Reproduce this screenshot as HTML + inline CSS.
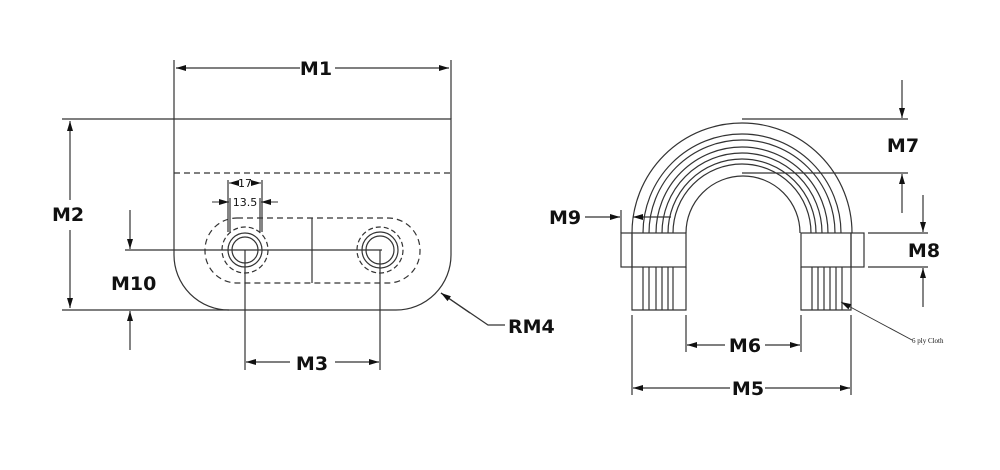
<!DOCTYPE html>
<html><head><style>
html,body{margin:0;padding:0;background:#fff;width:1000px;height:470px;overflow:hidden}
svg text{font-family:"DejaVu Sans","Liberation Sans",sans-serif;font-weight:bold;font-size:19px;fill:#111}
</style></head><body>
<svg width="1000" height="470" viewBox="0 0 1000 470" xmlns="http://www.w3.org/2000/svg">
<defs>
<marker id="a" viewBox="0 0 10 6" refX="10" refY="3" markerWidth="14" markerHeight="6" markerUnits="userSpaceOnUse" orient="auto"><path d="M0,0 L10,3 L0,6z" fill="#111"/></marker>
</defs>
<g stroke="#333" stroke-width="1.2" fill="none">
<!-- LEFT VIEW -->
<path d="M174,119 H451 V255 A55,55 0 0 1 396,310 H229 A55,55 0 0 1 174,255 Z"/>
<line x1="174" y1="173" x2="451" y2="173" stroke-dasharray="6,4"/>
<rect x="205" y="218" width="215" height="65" rx="32" stroke-dasharray="6,4"/>
<line x1="312" y1="218" x2="312" y2="283"/>
<circle cx="245" cy="250" r="23" stroke-dasharray="5,3"/>
<circle cx="245" cy="250" r="17"/>
<circle cx="245" cy="250" r="13"/>
<circle cx="380" cy="250" r="23" stroke-dasharray="5,3"/>
<circle cx="380" cy="250" r="18"/>
<circle cx="380" cy="250" r="14"/>
<line x1="125" y1="250" x2="382" y2="250"/>
<line x1="245" y1="250" x2="245" y2="370"/>
<line x1="380" y1="250" x2="380" y2="370"/>
<line x1="228" y1="180" x2="228" y2="232"/>
<line x1="262" y1="180" x2="262" y2="232"/>
<line x1="230" y1="198" x2="230" y2="232"/>
<line x1="260" y1="198" x2="260" y2="232"/>
<!-- M1 -->
<line x1="174" y1="60" x2="174" y2="119"/>
<line x1="451" y1="60" x2="451" y2="119"/>
<line x1="300" y1="68" x2="176" y2="68" marker-end="url(#a)"/>
<line x1="335" y1="68" x2="449" y2="68" marker-end="url(#a)"/>
<!-- M2 -->
<line x1="62" y1="119" x2="174" y2="119"/>
<line x1="62" y1="310" x2="229" y2="310"/>
<line x1="70" y1="200" x2="70" y2="121" marker-end="url(#a)"/>
<line x1="70" y1="230" x2="70" y2="308" marker-end="url(#a)"/>
<!-- M10 -->
<line x1="130" y1="210" x2="130" y2="249" marker-end="url(#a)"/>
<line x1="130" y1="350" x2="130" y2="311" marker-end="url(#a)"/>
<!-- M3 -->
<line x1="290" y1="362" x2="246" y2="362" marker-end="url(#a)"/>
<line x1="335" y1="362" x2="379" y2="362" marker-end="url(#a)"/>
<!-- RM4 -->
<polyline points="505,325 488,325 441,293" />
<line x1="470" y1="313" x2="441" y2="293" marker-end="url(#a)"/>
<!-- small dims -->
<line x1="238" y1="183" x2="229" y2="183" marker-end="url(#a)" stroke-width="1"/>
<line x1="252" y1="183" x2="261" y2="183" marker-end="url(#a)" stroke-width="1"/>
<line x1="212" y1="202" x2="229" y2="202" marker-end="url(#a)" stroke-width="1"/>
<line x1="278" y1="202" x2="261" y2="202" marker-end="url(#a)" stroke-width="1"/>

<!-- RIGHT VIEW -->
<path d="M632,233 A110,110 0 0 1 852,233" />
<path d="M686,233 A56,56 0 0 1 800,233"/>
<path d="M643,233 A99,99 0 0 1 841,233"/>
<path d="M649,233 A93,93 0 0 1 835,233"/>
<path d="M656,233 A86,86 0 0 1 828,233"/>
<path d="M662,233 A80,80 0 0 1 822,233"/>
<path d="M668,233 A74,74 0 0 1 816,233"/>
<path d="M673,233 A69,69 0 0 1 811,233"/>
<rect x="621" y="233" width="11" height="34"/>
<rect x="851" y="233" width="13" height="34"/>
<rect x="632" y="233" width="54" height="34"/>
<rect x="801" y="233" width="50" height="34"/>
<path d="M632,267 V310 H686 V267 M801,267 V310 H851 V267"/>
<path d="M643,267V310 M649,267V310 M656,267V310 M662,267V310 M668,267V310 M673,267V310"/>
<path d="M812,267V310 M818,267V310 M824,267V310 M830,267V310 M836,267V310 M842,267V310"/>
<path d="M632,315V395 M686,315V352 M801,315V352 M851,315V395"/>
<!-- M7 -->
<line x1="742" y1="119" x2="908" y2="119"/>
<line x1="742" y1="173" x2="908" y2="173"/>
<line x1="902" y1="80" x2="902" y2="118" marker-end="url(#a)"/>
<line x1="902" y1="213" x2="902" y2="174" marker-end="url(#a)"/>
<!-- M8 -->
<line x1="868" y1="233" x2="928" y2="233"/>
<line x1="868" y1="267" x2="928" y2="267"/>
<line x1="923" y1="195" x2="923" y2="232" marker-end="url(#a)"/>
<line x1="923" y1="307" x2="923" y2="268" marker-end="url(#a)"/>
<!-- M9 -->
<line x1="585" y1="217" x2="620" y2="217" marker-end="url(#a)"/>
<line x1="671" y1="217" x2="633" y2="217" marker-end="url(#a)"/>
<line x1="621" y1="210" x2="621" y2="233"/>
<!-- M6 -->
<line x1="725" y1="345" x2="687" y2="345" marker-end="url(#a)"/>
<line x1="765" y1="345" x2="800" y2="345" marker-end="url(#a)"/>
<!-- M5 -->
<line x1="730" y1="388" x2="633" y2="388" marker-end="url(#a)"/>
<line x1="765" y1="388" x2="850" y2="388" marker-end="url(#a)"/>
<!-- 6 ply -->
<line x1="912" y1="340" x2="841" y2="302" stroke-width="0.9" marker-end="url(#a)"/>
</g>
<text x="316" y="75" text-anchor="middle">M1</text>
<text x="52" y="221">M2</text>
<text x="111" y="290">M10</text>
<text x="312" y="370" text-anchor="middle">M3</text>
<text x="508" y="333">RM4</text>
<text x="903" y="152" text-anchor="middle">M7</text>
<text x="924" y="257" text-anchor="middle">M8</text>
<text x="549" y="224">M9</text>
<text x="745" y="352" text-anchor="middle">M6</text>
<text x="748" y="395" text-anchor="middle">M5</text>
<text x="245" y="187" text-anchor="middle" style="font-weight:normal;font-size:11px">17</text>
<text x="245" y="206" text-anchor="middle" style="font-weight:normal;font-size:11px">13.5</text>
<text x="912" y="343" style="font-family:'Liberation Serif',serif;font-weight:normal;font-size:7px">6 ply Cloth</text>
</svg>
</body></html>
